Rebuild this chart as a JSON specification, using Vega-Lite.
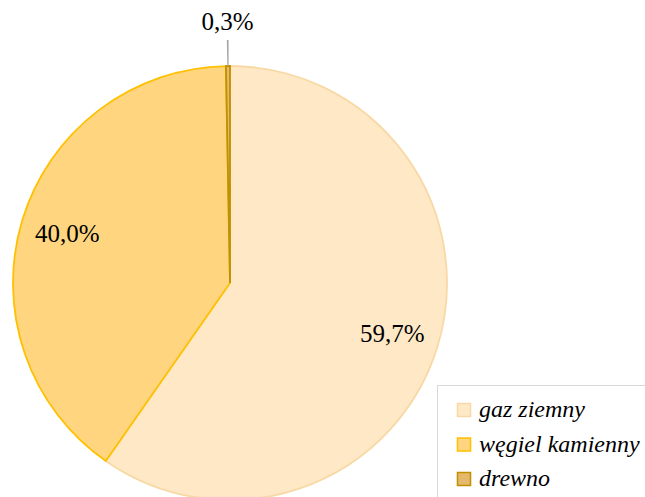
{
  "$schema": "https://vega.github.io/schema/vega-lite/v6.json",
  "width": 460,
  "height": 566,
  "padding": 0,
  "autosize": {"type": "pad"},
  "background": "white",
  "data": {
    "values": [
      {"kategoria": "gaz ziemny", "udzial": 59.7, "etykieta": "59,7%"},
      {"kategoria": "węgiel kamienny", "udzial": 40.0, "etykieta": "40,0%"},
      {"kategoria": "drewno", "udzial": 0.3, "etykieta": "0,3%"}
    ]
  },
  "layer": [
    {
      "mark": {"type": "arc", "outerRadius": 217, "strokeWidth": 1.8},
      "encoding": {
        "theta": {"field": "udzial", "type": "quantitative", "stack": true, "scale": {"domain": [0, 100]}},
        "order": {"field": "udzial", "sort": "descending"},
        "color": {
          "field": "kategoria", "type": "nominal",
          "scale": {"domain": ["gaz ziemny", "węgiel kamienny", "drewno"], "range": ["#FFE8C6", "#FFD580", "#E6B86A"]},
          "legend": {"title": null}
        },
        "stroke": {
          "field": "kategoria", "type": "nominal",
          "scale": {"domain": ["gaz ziemny", "węgiel kamienny", "drewno"], "range": ["#F8D9A6", "#FFC000", "#BF9000"]},
          "legend": {"title": null}
        }
      }
    },
    {
      "transform": [
        {"stack": "udzial", "groupby": [], "sort": [{"field": "udzial", "order": "descending"}], "as": ["s0", "s1"]},
        {"filter": "datum.kategoria === 'drewno'"}
      ],
      "mark": {"type": "arc", "radius": 217, "radius2": 243, "padAngle": 0.0087, "fill": "#A6A6A6"},
      "encoding": {
        "theta": {"field": "s0", "type": "quantitative", "scale": {"domain": [0, 100]}},
        "theta2": {"field": "s1"}
      }
    },
    {
      "mark": {"type": "text", "radius": 170, "font": "Liberation Serif", "fontSize": 25, "color": "#000000"},
      "encoding": {
        "theta": {"field": "udzial", "type": "quantitative", "stack": true, "scale": {"domain": [0, 100]}},
        "order": {"field": "udzial", "sort": "descending"},
        "detail": {"field": "kategoria", "type": "nominal"},
        "text": {"condition": {"test": "datum.kategoria !== 'drewno'", "field": "etykieta"}, "value": ""}
      }
    },
    {
      "transform": [
        {"stack": "udzial", "groupby": [], "sort": [{"field": "udzial", "order": "descending"}], "as": ["s0", "s1"]},
        {"calculate": "(datum.s0 + datum.s1) / 2", "as": "srodek"},
        {"filter": "datum.kategoria === 'drewno'"}
      ],
      "mark": {"type": "text", "radius": 261, "font": "Liberation Serif", "fontSize": 25, "color": "#000000"},
      "encoding": {
        "theta": {"field": "srodek", "type": "quantitative", "scale": {"domain": [0, 100]}},
        "text": {"field": "etykieta"}
      }
    }
  ],
  "config": {
    "view": {"stroke": null},
    "legend": {
      "orient": "none",
      "legendX": 437,
      "legendY": 385,
      "padding": 13,
      "strokeColor": "#D9D9D9",
      "fillColor": "#FFFFFF",
      "symbolType": "square",
      "symbolSize": 170,
      "symbolStrokeWidth": 1.5,
      "symbolOffset": 2,
      "labelFont": "Liberation Serif",
      "labelFontStyle": "italic",
      "labelFontSize": 24,
      "labelColor": "#000000",
      "labelOffset": 3,
      "rowPadding": 10.5,
      "labelLimit": 400
    }
  }
}
